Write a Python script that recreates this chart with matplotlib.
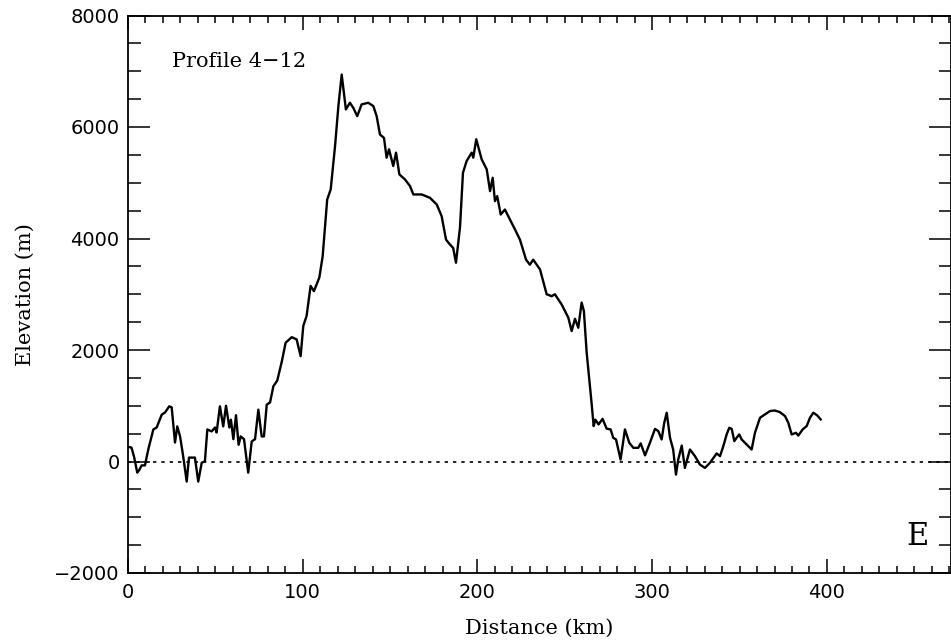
import matplotlib
matplotlib.use("Agg")
import matplotlib.pyplot as plt
from matplotlib.ticker import MultipleLocator

distance_km = [
    0.5, 2, 3.5, 5.3, 6.5, 7.8, 9.7, 11.6, 14.5, 16.4, 19.3, 21.2, 23.6, 25, 26.9,
    28.2, 29.8, 31.6, 33.6, 34.9, 36.4, 38.3, 40.2, 42.2, 44, 45.4, 47.9, 49.8,
    50.7, 52.6, 54.5, 56.1, 58, 58.9, 60.3, 61.8, 63.3, 64.5, 66.4, 68.8, 70.8,
    72.7, 74.6, 76.5, 77.8, 79.4, 81.3, 83.2, 85.4, 88, 90.2, 93.7, 96.5, 98.8,
    100.3, 102.2, 104.5, 106.4, 109.5, 111.4, 114, 116, 118.5, 120.4, 122.3,
    124.7, 127, 128.9, 131.2, 133.7, 137.5, 140.4, 142.3, 144.2, 146.5, 148,
    149.4, 151.8, 153.4, 155.3, 158.5, 161.4, 163.3, 168.1, 172.8, 176.7, 179.5,
    182, 184.3, 186.1, 187.7, 190, 191.7, 193.8, 196.7, 197.6, 199.3, 202.4,
    205.3, 207.2, 208.7, 210, 211.3, 213.3, 215.7, 218.6, 221.5, 224.3, 227.8,
    230, 231.9, 235.8, 239.6, 242.5, 244.3, 248.2, 252, 253.9, 255.8, 257.7,
    259.6, 260.9, 262.5, 265.3, 266.5, 267.5, 269.3, 271.6, 273.9, 276.2, 277.7,
    279.3, 281.9, 284.4, 286.9, 289.2, 292, 293.4, 295.9, 298.7, 301.6, 303.5,
    305.4, 306.9, 308.3, 310.2, 312, 313.6, 314.9, 316.9, 318.7, 321.6, 324.5,
    327.3, 330.2, 333, 336.9, 338.8, 340.7, 342.6, 344.1, 345.5, 347, 348.3,
    349.8, 351.2, 353.1, 356.9, 358.8, 361.7, 364.5, 367.4, 370.2, 373.1, 376,
    377.9, 379.8, 382.3, 383.6, 386.1, 388.4, 390.3, 392.2, 394.5, 396.4,
]
elevation_m = [
    260, 250, 80, -200, -150, -70, -70, 215, 575, 610, 840, 880, 990, 970, 340,
    630, 450, 90, -360, 70, 70, 70, -360, -20, 0, 575, 540, 610,
    520, 990, 630, 1000, 610, 750, 400, 830, 300, 450, 400, -200, 360,
    400, 930, 450, 450, 1020, 1060, 1350, 1450, 1790, 2130, 2230, 2190, 1890,
    2430, 2610, 3150, 3055, 3300, 3680, 4700, 4880, 5660, 6375, 6940,
    6315, 6435, 6345, 6195, 6405, 6435, 6375, 6195, 5865, 5805, 5450,
    5600, 5300, 5540, 5150, 5060, 4940, 4790, 4790, 4730, 4610, 4400,
    3980, 3890, 3830, 3565, 4200, 5180, 5390, 5540, 5450, 5780, 5420,
    5240, 4850, 5090, 4670, 4760, 4430, 4520, 4340, 4160, 3980, 3620,
    3530, 3620, 3445, 3000, 2965, 3000, 2815, 2580, 2340, 2560, 2400,
    2850, 2700, 1950, 1050, 635, 750, 665, 765, 590, 575, 425,
    395, 35, 575, 335, 245, 245, 325, 110, 335, 585, 545,
    395, 695, 875, 425, 215, -235, 35, 285, -115, 215, 95,
    -55, -115, -25, 145, 95, 275, 485, 605, 585, 365, 425,
    485, 395, 335, 215, 515, 785, 845, 905, 915, 885, 815,
    695, 485, 515, 465, 575, 635, 785, 875, 825, 755,
]
x_ticks = [0, 100, 200, 300, 400]
y_ticks = [-2000, 0, 2000, 4000, 6000, 8000]
profile_label = "Profile 4\u221212"
side_label = "E"

fig = plt.figure(figsize=(9.51, 6.44), dpi=100)
ax = fig.add_axes([128 / 951, 1 - 573 / 644, 1 - 128 / 951, (573 - 15.5) / 644])

ax.plot(distance_km, elevation_m, color="black", lw=1.7, solid_joinstyle="round")
ax.axhline(0, color="black", lw=1.2, linestyle=(0, (2.0, 3.0)))

ax.set_xlim(0, 471)
ax.set_ylim(-2000, 8000)
ax.set_xticks(x_ticks)
ax.set_yticks(y_ticks)
ax.set_xticklabels([str(v) for v in x_ticks])
ax.set_yticklabels([f"\u2212{abs(v)}" if v < 0 else str(v) for v in y_ticks])
ax.xaxis.set_minor_locator(MultipleLocator(10))
ax.yaxis.set_minor_locator(MultipleLocator(500))

ax.tick_params(axis="both", which="both", direction="in", top=True, right=True,
               colors="black", width=1.1)
ax.tick_params(axis="x", which="major", length=10, pad=7, labelsize=14)
ax.tick_params(axis="x", which="minor", length=5)
ax.tick_params(axis="y", which="major", length=16, pad=6, labelsize=14)
ax.tick_params(axis="y", which="minor", length=9)
for lab in ax.get_xticklabels() + ax.get_yticklabels():
    lab.set_family("DejaVu Sans")

for sp in ax.spines.values():
    sp.set_linewidth(1.3)
    sp.set_color("black")

ax.set_xlabel("Distance (km)", family="DejaVu Serif", fontsize=15)
ax.set_ylabel("Elevation (m)", family="DejaVu Serif", fontsize=15)
ax.xaxis.set_label_coords(0.5, -0.099)
ax.yaxis.set_label_coords(-0.125, 0.5)
ax.xaxis.label.set_va("center")
ax.yaxis.label.set_va("center")

ax.text(25, 7180, profile_label, family="DejaVu Serif", fontsize=15,
        ha="left", va="center")
ax.text(452, -1345, side_label, family="DejaVu Serif", fontsize=22,
        ha="center", va="center")

fig.savefig("out.png", dpi=100)
